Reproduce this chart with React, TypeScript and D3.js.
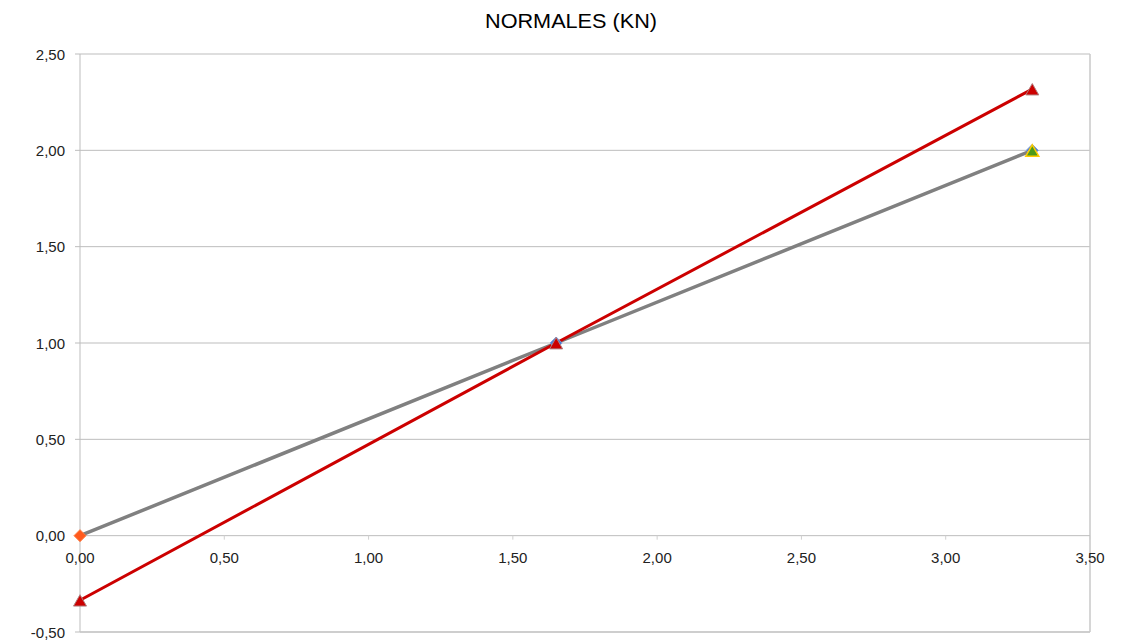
import React from "react";
import * as d3 from "d3";

const title = "NORMALES (KN)";
const xTicks = [0, 0.5, 1, 1.5, 2, 2.5, 3, 3.5];
const yTicks = [-0.5, 0, 0.5, 1, 1.5, 2, 2.5];
const grayX = [0, 1.65, 3.3];
const grayY = [0, 1, 2];
const redX = [0, 1.65, 3.3];
const redY = [-0.335, 1, 2.318];
const blueDiamondX = [1.65, 3.3];
const blueDiamondY = [1, 2];
const orangeDiamondX = [0];
const orangeDiamondY = [0];
const greenTriX = [3.3];
const greenTriY = [2];

const W = 1128, H = 644;
const L = 80, R = 1090, T = 54, B = 632;

const fmt = (v: number) => d3.format(".2f")(v).replace(".", ",").replace("−", "-");

export default function App() {
  const x = d3.scaleLinear().domain([0, 3.5]).range([L, R]);
  const y = d3.scaleLinear().domain([-0.5, 2.5]).range([B, T]);
  const line = d3.line<[number, number]>().x(d => x(d[0])).y(d => y(d[1]));
  const gray = grayX.map((v, i) => [v, grayY[i]] as [number, number]);
  const red = redX.map((v, i) => [v, redY[i]] as [number, number]);
  const diamond = (cx: number, cy: number, r: number) =>
    `M${cx},${cy - r}L${cx + r},${cy}L${cx},${cy + r}L${cx - r},${cy}Z`;
  const tri = (cx: number, cy: number, r: number) =>
    `M${cx},${cy - r}L${cx + r},${cy + r * 0.75}L${cx - r},${cy + r * 0.75}Z`;
  const font = "'Liberation Sans', Arial, sans-serif";
  return (
    <svg width={W} height={H} style={{ position: "absolute", left: 0, top: 0, background: "#fff" }} fontFamily={font}>
      <rect x={0} y={0} width={W} height={H} fill="#fff" />
      <text x={571} y={28} textAnchor="middle" fontSize={21} fill="#000" textLength={172} lengthAdjust="spacingAndGlyphs">{title}</text>
      {yTicks.map(t => (
        <g key={"y" + t}>
          {t !== 0 && <line x1={L} x2={R} y1={y(t)} y2={y(t)} stroke="#bdbdbd" strokeWidth={1} />}
          <line x1={L - 5} x2={L} y1={y(t)} y2={y(t)} stroke="#bdbdbd" />
          <text x={L - 15} y={y(t) + 5.5} textAnchor="end" fontSize={15} fill="#222">{fmt(t)}</text>
        </g>
      ))}
      <line x1={L} x2={L} y1={T} y2={B} stroke="#bdbdbd" />
      <line x1={R} x2={R} y1={T} y2={B} stroke="#c8c8c8" strokeWidth={1.5} />
      <line x1={L} x2={R} y1={B} y2={B} stroke="#c8c8c8" strokeWidth={1.5} />
      <line x1={L} x2={R} y1={y(0)} y2={y(0)} stroke="#bdbdbd" />
      {xTicks.map(t => (
        <g key={"x" + t}>
          <line x1={x(t)} x2={x(t)} y1={y(0)} y2={y(0) + 4} stroke="#d0d0d0" />
          <text x={x(t)} y={y(0) + 27.5} textAnchor="middle" fontSize={15} fill="#222">{fmt(t)}</text>
        </g>
      ))}
      <path d={line(gray) || ""} fill="none" stroke="#808080" strokeWidth={3.5} />
      <path d={line(red) || ""} fill="none" stroke="#cc0000" strokeWidth={3} />
      {orangeDiamondX.map((v, i) => (
        <path key={"o" + i} d={diamond(x(v), y(orangeDiamondY[i]), 6)} fill="#ff5a1e" stroke="#ff7a3e" />
      ))}
      {blueDiamondX.map((v, i) => (
        <path key={"b" + i} d={diamond(x(v), y(blueDiamondY[i]), 6)} fill="#4a7bd0" stroke="#7a9fe0" />
      ))}
      {greenTriX.map((v, i) => (
        <path key={"g" + i} d={tri(x(v), y(greenTriY[i]) + 1, 6.5)} fill="#4c9a1a" stroke="#ffcc00" strokeWidth={1.5} />
      ))}
      {redX.map((v, i) => (
        <path key={"r" + i} d={tri(x(v), y(redY[i]) + 1, 6.5)} fill="#cc0000" stroke="#b08080" strokeWidth={1} />
      ))}
    </svg>
  );
}
